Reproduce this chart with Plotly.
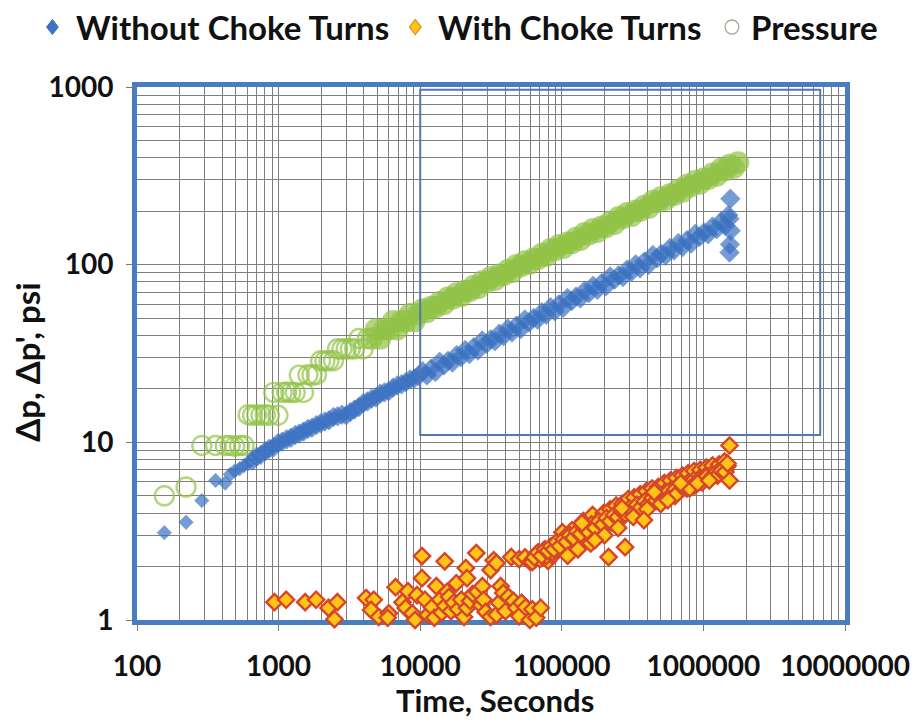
import plotly.graph_objects as go

# ---------------- data ----------------
time_s = [156, 222, 287, 359, 420, 455, 490, 530, 570, 610,
          655, 700, 750, 805, 860, 925, 990, 1060, 1140, 1220,
          1310, 1400, 1500, 1610, 1720, 1850, 1980, 2120, 2270, 2440,
          2610, 2800, 3000, 3210, 3440, 3690, 3950, 4240, 4540, 4870,
          5220, 5590, 5990, 6420, 6880, 7380, 7910, 8480, 9090, 9740,
          10400, 11150, 11950, 12800, 13720, 14700, 15750, 16880, 18090, 19390,
          20780, 22270, 23870, 25580, 27410, 29380, 31490, 33750, 36170, 38770,
          41550, 44530, 47730, 51160, 54830, 58770, 62990, 67510, 72360, 77560,
          83130, 89100, 95500, 102400, 109700, 117600, 126100, 135100, 144800, 155200,
          166400, 178300, 191100, 204800, 219500, 235300, 252200, 270300, 289700, 310500,
          332800, 356700, 382300, 409800, 439200, 470700, 504500, 540700, 579500, 621100,
          665700, 713500, 764700, 819600, 878400, 941500, 1009000, 1081000, 1159000, 1242000,
          1331000, 1427000, 1529000, 1639000, 1757000]

pressure_psi = [5.0, 5.6, 9.6, 9.6, 9.6, 9.6, 9.5, 9.6, 9.6, 14.3,
                14.2, 14.3, 14.2, 14.3, 14.2, 19.1, 14.2, 19.1, 19.2, 19.1,
                19.1, 23.9, 19.1, 24.0, 23.9, 24.0, 28.8, 28.7, 28.8, 28.8,
                33.6, 33.5, 33.6, 33.6, 33.6, 38.4, 33.6, 38.4, 38.4, 43.2,
                38.4, 43.2, 43.2, 48.0, 43.2, 48.0, 48.0, 52.8, 48.0, 52.8,
                56.0, 54.1, 57.9, 57.6, 61.5, 60.0, 65.4, 64.5, 68.9, 66.6,
                71.2, 70.9, 75.8, 73.9, 80.5, 79.5, 84.9, 82.1, 87.7, 87.3,
                93.2, 91.0, 99.2, 97.8, 104.4, 101.0, 107.9, 107.5, 114.8, 112.0,
                122.2, 120.5, 128.6, 124.4, 132.8, 132.3, 141.4, 137.9, 150.4, 148.4,
                158.4, 153.1, 163.6, 162.9, 174.0, 169.8, 185.1, 182.7, 195.0, 188.5,
                201.5, 200.6, 214.3, 209.1, 228.0, 224.9, 240.1, 232.1, 248.1, 247.0,
                263.9, 257.5, 280.7, 276.9, 295.6, 285.8, 305.3, 304.0, 324.8, 317.0,
                345.5, 340.9, 363.9, 351.8, 375.9]

deriv_no_choke_psi = [3.1, 3.55, 4.7, 6.1, 5.9, 6.6, 6.9, 7.1, 7.4, 7.6,
                      7.9, 8.3, 8.5, 8.9, 9.2, 9.4, 9.9, 10.1, 10.4, 10.6,
                      11.0, 11.2, 11.5, 11.9, 12.1, 12.5, 12.8, 13.1, 13.3, 13.9,
                      14.0, 14.3, 14.2, 14.8, 15.3, 15.8, 16.6, 17.0, 17.6, 17.9,
                      18.8, 19.1, 19.4, 20.3, 20.9, 21.2, 21.8, 22.6, 22.9, 23.6,
                      25.1, 23.8, 26.0, 24.9, 28.4, 27.1, 28.8, 28.1, 31.0, 30.1,
                      33.1, 31.4, 34.3, 32.9, 37.4, 35.8, 38.0, 37.1, 40.9, 39.6,
                      43.7, 41.5, 45.3, 43.3, 49.2, 47.2, 50.1, 49.0, 54.0, 52.3,
                      57.6, 54.7, 59.8, 57.2, 65.0, 62.4, 66.2, 64.6, 71.3, 69.0,
                      76.0, 72.2, 78.8, 75.5, 85.8, 82.3, 87.2, 85.2, 94.0, 91.1,
                      100.4, 95.2, 104.0, 99.7, 113.2, 108.6, 115.1, 112.5, 124.1, 120.2,
                      132.4, 125.7, 137.3, 131.5, 149.4, 143.4, 151.9, 148.4, 163.8, 158.5,
                      174.7, 165.8, 181.2]
# last few scattered derivative points at the end of the test
late_time_s = [1500000, 1530000, 1540000, 1550000, 1560000]
late_deriv_psi = [190, 117, 130, 235, 155]

choke_time_s = [935, 1130, 1540, 1840, 2250, 2600, 2480, 4150, 4700, 4500,
                5100, 6000, 5900, 6700, 7500, 7900, 8200, 8800, 9200, 9500,
                10300, 10300, 10800, 11300, 12100, 12600, 13000, 13800, 14200, 14900,
                15000, 15500, 16000, 16500, 17200, 18000, 18500, 19500, 20400, 21000,
                21400, 21400, 22500, 23500, 24900, 25300, 26900, 27500, 28000, 29000,
                31400, 31400, 33000, 34600, 34600, 36000, 37000, 38600, 40000, 42000,
                44000, 45500, 47700, 50000, 52000, 55500, 59500, 62000, 66000, 71000,
                50000, 55000, 60000, 65000, 70000, 74000, 78000, 80000, 82000, 86000,
                90000, 95000, 101000,
                62000, 66000, 70000, 74000, 78000, 82000, 86000, 90000, 95000, 100000,
                105000, 110000, 115000, 120000, 126000, 132000, 138000, 145000, 152000, 160000,
                168000, 176000, 185000, 194000, 204000, 214000, 225000, 236000, 248000, 260000,
                273000, 287000, 301000, 316000, 332000, 349000, 366000, 385000, 404000, 424000,
                445000, 467000, 490000, 515000, 540000, 567000, 596000, 626000, 657000, 690000,
                724000, 760000, 798000, 838000, 880000, 924000, 970000, 1020000, 1070000, 1120000,
                1180000, 1240000, 1300000, 1360000, 1420000, 1480000,
                105000, 112000, 118000, 124000, 135000, 142000, 150000, 158000, 165000, 172000,
                180000, 190000, 198000, 208000, 220000, 230000, 242000, 255000, 268000, 282000,
                295000, 310000, 325000, 340000, 358000, 375000, 395000, 415000, 435000, 458000,
                480000, 505000, 530000, 555000, 585000, 615000, 645000, 675000, 710000, 745000,
                780000, 820000, 860000, 905000, 950000, 1000000, 1050000, 1100000, 1160000, 1220000,
                1290000, 1350000, 1410000, 1460000,
                64000, 68000, 72000, 76000, 80000, 84000, 88000, 92000, 97000, 103000,
                108000, 114000, 121000, 128000, 136000, 144000, 153000, 162000, 172000, 183000,
                195000, 207000, 220000, 234000, 249000, 265000, 282000, 300000, 319000, 340000,
                362000, 385000, 410000, 436000, 464000, 494000, 526000, 560000, 596000, 634000,
                675000, 718000, 764000, 813000, 865000, 921000, 980000, 1043000, 1110000, 1181000,
                1257000, 1338000, 1424000,
                110000, 130000, 160000, 200000, 250000, 320000, 400000, 500000, 630000, 800000,
                139000, 171000, 214000, 280000, 266000, 380000, 450000, 560000, 690000, 910000,
                1100000, 1530000, 1480000, 1530000]
choke_psi = [1.26, 1.30, 1.26, 1.30, 1.17, 1.26, 1.01, 1.33, 1.30, 1.14,
             1.04, 1.09, 1.03, 1.53, 1.26, 1.17, 1.45, 1.09, 1.00, 1.38,
             2.29, 1.72, 1.30, 1.07, 1.18, 1.03, 1.55, 1.30, 1.10, 2.14,
             1.20, 1.44, 1.35, 1.12, 1.25, 1.61, 1.15, 1.30, 1.04, 1.96,
             1.72, 1.17, 1.28, 1.40, 2.38, 1.44, 1.21, 1.55, 1.30, 1.11,
             1.04, 1.91, 2.17, 1.07, 2.09, 1.25, 1.55, 1.42, 1.12, 1.35,
             2.26, 1.28, 1.17, 1.05, 1.25, 1.18, 1.00, 1.15, 1.03, 1.17,
             2.20, 2.25, 2.12, 2.20, 2.30, 2.38, 2.25, 2.15, 2.40, 2.30,
             2.50, 2.70, 3.12,
             2.12, 2.35, 2.20, 2.45, 2.30, 2.55, 2.40, 2.65, 2.50, 2.80,
             2.60, 2.95, 2.75, 3.05, 2.85, 3.20, 3.00, 3.35, 3.10, 3.45,
             3.20, 3.55, 3.30, 3.70, 3.40, 3.80, 3.55, 3.95, 3.70, 4.10,
             3.85, 4.30, 4.00, 4.45, 4.15, 4.60, 4.30, 4.80, 4.50, 5.00,
             4.65, 5.15, 4.85, 5.35, 5.00, 5.50, 5.20, 5.70, 5.40, 5.90,
             5.55, 6.05, 5.75, 6.25, 5.95, 6.45, 6.10, 6.60, 6.30, 6.80,
             6.50, 7.00, 6.70, 7.20, 6.90, 7.40,
             2.45, 2.70, 3.20, 2.60, 2.90, 3.60, 2.80, 3.30, 3.90, 3.00,
             3.60, 3.20, 4.00, 3.50, 4.20, 3.60, 4.40, 3.80, 4.50, 4.10,
             4.80, 4.20, 4.90, 4.40, 5.10, 4.60, 5.30, 4.80, 5.50, 5.00,
             5.60, 5.20, 5.90, 5.40, 6.10, 5.60, 6.30, 5.80, 6.50, 6.00,
             6.70, 6.20, 6.90, 6.40, 7.00, 6.60, 7.20, 6.80, 7.40, 7.00,
             7.50, 7.20, 7.80, 7.30,
             2.25, 2.40, 2.30, 2.50, 2.45, 2.60, 2.50, 2.75, 2.60, 2.85,
             2.75, 3.00, 2.90, 3.15, 3.05, 3.30, 3.15, 3.45, 3.30, 3.60,
             3.45, 3.75, 3.60, 3.90, 3.80, 4.10, 3.95, 4.25, 4.10, 4.45,
             4.30, 4.65, 4.50, 4.85, 4.70, 5.05, 4.90, 5.25, 5.10, 5.45,
             5.30, 5.70, 5.50, 5.90, 5.70, 6.10, 5.95, 6.35, 6.20, 6.55,
             6.50, 6.90, 6.80,
             2.30, 2.50, 2.70, 3.00, 3.30, 3.80, 4.20, 4.50, 5.00, 5.50,
             3.51, 2.81, 2.26, 2.57, 4.26, 3.65, 5.24, 4.72, 5.88, 5.88,
             6.10, 9.60, 7.60, 6.10]

series_names = ["Without Choke Turns", "With Choke Turns", "Pressure"]

x_tick_vals = [100, 1000, 10000, 100000, 1000000, 10000000]
x_tick_text = ["100", "1000", "10000", "100000", "1000000", "10000000"]
y_tick_vals = [1, 10, 100, 1000]
y_tick_text = ["1", "10", "100", "1000"]

# ---------------- styling ----------------
FONT = "Lato"
BLUE = "#3C72C2"
GREEN = "#92C347"
GOLD = "#FFC516"
RED_EDGE = "#D5462A"
FRAME = "#4A7DC0"
GRID = "#7E7E7E"
TXT = "#111111"

W, H = 922, 722
ML, MR, MT, MB = 137, 65, 87, 102
PW, PH = W - ML - MR, H - MT - MB


def px_to_paper(px, py):
    return (px - ML) / PW, (H - MB - py) / PH


n_open = 38  # early pressure points show as separate open rings
green_symbols = ["circle-open" if i < n_open else "circle" for i in range(len(pressure_psi))]
green_sizes = [19 if i < n_open else 20 for i in range(len(pressure_psi))]
blue_all_t = time_s[:len(deriv_no_choke_psi)] + late_time_s
blue_all_v = deriv_no_choke_psi + late_deriv_psi
blue_sizes = [11 if i < 10 else 15 for i in range(len(blue_all_v))]

fig = go.Figure()

fig.add_trace(go.Scatter(
    x=time_s, y=pressure_psi, mode="markers", name=series_names[2],
    marker=dict(symbol=green_symbols, size=green_sizes, color=GREEN,
                line=dict(width=2.4, color=GREEN))))

fig.add_trace(go.Scatter(
    x=blue_all_t, y=blue_all_v,
    mode="markers", name=series_names[0],
    marker=dict(symbol="diamond", size=blue_sizes, color=BLUE,
                line=dict(width=0.8, color=BLUE))))

fig.add_trace(go.Scatter(
    x=choke_time_s, y=choke_psi, mode="markers", name=series_names[1],
    cliponaxis=False,
    marker=dict(symbol="diamond", size=12.5, color=GOLD,
                line=dict(width=2.4, color=RED_EDGE))))

fig.update_xaxes(
    type="log", range=[2, 7],
    tickvals=x_tick_vals, ticktext=x_tick_text,
    showgrid=True, gridcolor=GRID, gridwidth=1.2,
    minor=dict(showgrid=True, gridcolor=GRID, gridwidth=1.1, dtick="D1",
               ticks=""),
    showline=True, linecolor=FRAME, linewidth=5, mirror=True,
    ticks="outside", ticklen=6, tickcolor="#777777",
    ticklabelstandoff=11, layer="below traces",
    tickfont=dict(family=FONT, size=28, color=TXT, weight=700),
    zeroline=False)

fig.update_yaxes(
    type="log", range=[0, 3],
    tickvals=y_tick_vals, ticktext=y_tick_text,
    showgrid=True, gridcolor=GRID, gridwidth=1.2,
    minor=dict(showgrid=True, gridcolor=GRID, gridwidth=1.1, dtick="D1",
               ticks=""),
    showline=True, linecolor=FRAME, linewidth=5, mirror=True,
    ticks="outside", ticklen=6, tickcolor="#777777",
    ticklabelstandoff=7,
    tickfont=dict(family=FONT, size=28, color=TXT, weight=700),
    zeroline=False)

# thin inner rectangle seen inside the plot area
fig.add_shape(type="rect", xref="x domain", yref="y domain",
              x0=0.4, x1=0.965, y0=0.347, y1=0.995,
              line=dict(color="#5577B0", width=2), layer="above")

# axis titles
fig.add_annotation(text="Time, Seconds", xref="paper", yref="paper",
                   x=px_to_paper(501, 0)[0], y=px_to_paper(0, 700)[1],
                   xanchor="center", yanchor="middle", showarrow=False,
                   font=dict(family=FONT, size=31, color=TXT, weight=700))
fig.add_annotation(text="Δp, Δp', psi", xref="paper", yref="paper",
                   x=px_to_paper(25, 0)[0], y=px_to_paper(0, 362)[1],
                   xanchor="center", yanchor="middle",
                   showarrow=False, textangle=-90,
                   font=dict(family=FONT, size=33, color=TXT, weight=700))

# ---- hand-built legend row at the top (text + symbol) ----
LEG_Y = 27
leg_text_x = [73, 441, 759]
leg_sym_x = [51, 420, 742]
for name, tx in zip(series_names, leg_text_x):
    px_, py_ = px_to_paper(tx, LEG_Y)
    fig.add_annotation(text=name, xref="paper", yref="paper", x=px_, y=py_,
                       xanchor="left", yanchor="middle", showarrow=False,
                       font=dict(family=FONT, size=33, color=TXT, weight=700))


def diamond_path(cx, cy, hw, hh):
    pts = [(cx - hw, cy), (cx, cy - hh), (cx + hw, cy), (cx, cy + hh)]
    p = [px_to_paper(a, b) for a, b in pts]
    return "M {} {} L {} {} L {} {} L {} {} Z".format(
        p[0][0], p[0][1], p[1][0], p[1][1], p[2][0], p[2][1], p[3][0], p[3][1])


fig.add_shape(type="path", xref="paper", yref="paper",
              path=diamond_path(leg_sym_x[0], LEG_Y, 6, 7.5),
              fillcolor=BLUE, line=dict(color=BLUE, width=1))
fig.add_shape(type="path", xref="paper", yref="paper",
              path=diamond_path(leg_sym_x[1], LEG_Y, 6, 7.5),
              fillcolor=GOLD, line=dict(color="#E08A20", width=1.2))
c0 = px_to_paper(leg_sym_x[2] - 7, LEG_Y + 7)
c1 = px_to_paper(leg_sym_x[2] + 7, LEG_Y - 7)
fig.add_shape(type="circle", xref="paper", yref="paper",
              x0=c0[0], y0=c0[1], x1=c1[0], y1=c1[1],
              fillcolor="white", line=dict(color="#A8A898", width=1.3))

fig.update_layout(
    width=W, height=H,
    margin=dict(l=ML, r=MR, t=MT, b=MB),
    paper_bgcolor="white", plot_bgcolor="white",
    showlegend=False,
)

fig.write_html("out.html")
